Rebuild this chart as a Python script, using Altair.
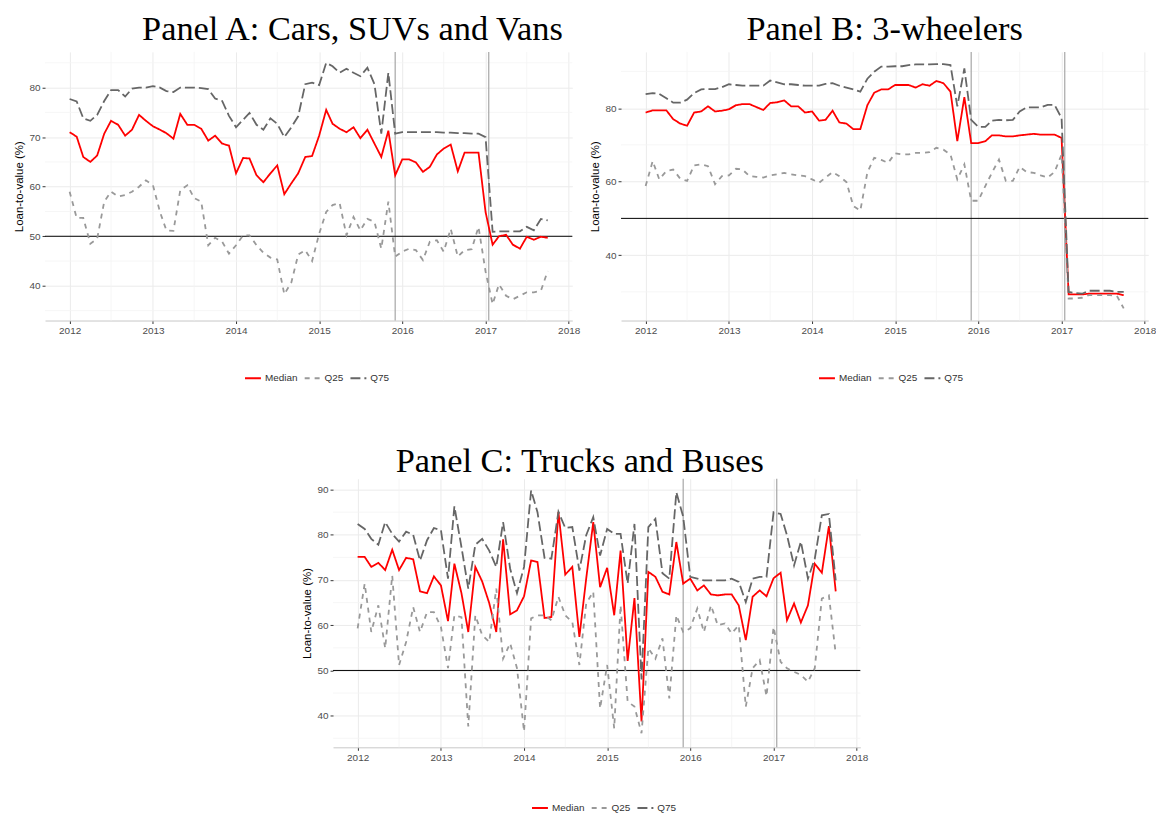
import altair as alt
import pandas as pd

# ---------------- data ----------------
MONTHS = [f"{2012 + i // 12}/{i % 12 + 1:02d}/01" for i in range(70)]  # 2012-01 .. 2017-10
YEARS = [2012, 2013, 2014, 2015, 2016, 2017, 2018]
MINOR_X = ["2012/07/01", "2013/07/01", "2014/07/01", "2015/07/01", "2016/07/01", "2017/07/01"]
VLINES = ["2015/12/01", "2017/01/15"]
HLINE = [50]
SERIES = ["Median", "Q25", "Q75"]

a_median = [71.0, 70.1, 66.0, 65.0, 66.3, 70.7, 73.3, 72.5, 70.3, 71.5, 74.5, 73.3,
            72.2, 71.5, 70.8, 69.7, 74.7, 72.5, 72.5, 71.7, 69.3, 70.3, 68.7, 68.3,
            62.7, 65.8, 65.7, 62.3, 60.9, 62.7, 64.3, 58.5, 60.7, 62.7, 66.0, 66.2,
            70.3, 75.5, 72.7, 71.7, 71.0, 72.0, 69.8, 71.5, 68.7, 66.0, 71.3, 62.3,
            65.5, 65.5, 64.9, 63.0, 64.0, 66.5, 67.7, 68.5, 63.1, 66.9, 66.9, 66.9,
            54.9, 48.3, 50.0, 50.3, 48.3, 47.5, 49.9, 49.3, 49.9, 49.7]
a_q75 = [77.7, 77.2, 73.8, 73.3, 74.5, 77.3, 79.5, 79.5, 78.2, 79.8, 80.0, 80.0,
         80.3, 80.0, 79.3, 79.1, 80.0, 80.0, 80.0, 79.9, 79.7, 77.8, 77.3, 74.3,
         72.0, 73.5, 74.9, 72.5, 71.5, 73.8, 72.7, 70.0, 72.0, 74.2, 80.7, 81.0,
         80.5, 85.0, 84.3, 83.0, 83.8, 83.0, 82.3, 84.0, 80.7, 70.7, 83.0, 70.7,
         71.0, 71.0, 71.0, 71.0, 71.0, 71.0, 70.9, 70.9, 70.8, 70.8, 70.7, 70.7,
         70.0, 50.9, 51.0, 51.0, 51.0, 51.0, 51.9, 51.2, 53.5, 53.2]
a_q25 = [59.0, 53.7, 53.7, 48.5, 49.5, 57.0, 59.0, 58.0, 58.3, 59.0, 60.0, 61.3,
         60.3, 54.9, 51.2, 51.1, 59.3, 60.3, 57.7, 57.0, 48.2, 49.7, 48.9, 46.5,
         48.2, 50.2, 50.2, 48.2, 46.7, 45.7, 45.3, 38.3, 40.7, 46.3, 47.2, 45.0,
         50.5, 54.9, 56.3, 56.7, 50.2, 53.9, 51.2, 53.5, 52.9, 47.5, 57.0, 45.9,
         46.9, 47.5, 47.2, 45.2, 48.9, 49.2, 46.9, 51.5, 45.9, 47.2, 47.4, 51.9,
         42.9, 36.3, 40.3, 38.0, 37.3, 38.0, 38.7, 38.7, 39.0, 43.0]

b_median = [78.8, 79.4, 79.4, 79.4, 77.0, 75.8, 75.2, 78.8, 79.1, 80.5, 79.1, 79.3,
            79.7, 80.8, 81.1, 81.1, 80.3, 79.5, 81.4, 81.6, 82.1, 80.5, 80.5, 78.8,
            79.1, 76.6, 76.8, 79.3, 76.1, 75.8, 74.3, 74.3, 80.8, 84.2, 85.1, 85.1,
            86.3, 86.3, 86.3, 85.6, 86.5, 86.1, 87.4, 86.8, 84.5, 71.0, 83.0, 70.5,
            70.5, 71.0, 72.6, 72.6, 72.3, 72.3, 72.6, 72.8, 73.0, 72.8, 72.8, 72.8,
            71.9, 29.3, 29.3, 29.3, 29.5, 29.5, 29.5, 29.5, 29.5, 29.1]
b_q75 = [83.8, 84.1, 83.9, 82.7, 81.5, 81.5, 82.3, 84.1, 85.1, 85.2, 85.2, 85.7,
         86.5, 86.3, 86.1, 86.1, 86.1, 86.1, 87.5, 87.0, 86.5, 86.5, 86.3, 86.1,
         86.1, 86.1, 86.6, 86.8, 86.1, 85.6, 85.1, 84.5, 88.0, 89.9, 91.3, 91.3,
         91.4, 91.4, 91.7, 91.9, 91.9, 91.9, 92.0, 92.0, 91.7, 80.5, 90.8, 76.8,
         74.9, 74.9, 76.6, 76.8, 76.7, 76.8, 79.1, 80.2, 80.2, 80.2, 80.9, 80.9,
         77.3, 30.0, 29.7, 29.5, 30.3, 30.3, 30.3, 30.3, 30.0, 30.0]
b_q25 = [58.8, 65.6, 60.6, 62.9, 63.3, 60.8, 60.2, 64.4, 64.7, 64.2, 59.3, 61.5,
         61.7, 63.5, 63.3, 61.5, 61.3, 61.1, 61.7, 62.0, 62.4, 62.0, 61.7, 61.5,
         60.6, 59.7, 61.1, 62.6, 61.5, 59.9, 53.4, 52.1, 62.5, 66.5, 65.9, 65.1,
         67.7, 67.4, 67.4, 67.8, 67.8, 68.0, 69.2, 68.7, 67.4, 60.6, 64.7, 54.8,
         54.8, 58.8, 62.4, 66.0, 60.2, 60.2, 64.0, 62.6, 62.4, 61.7, 61.1, 62.6,
         67.4, 28.2, 28.2, 28.4, 29.1, 29.1, 29.1, 29.1, 28.9, 25.5]

c_median = [75.1, 75.1, 72.9, 73.8, 72.2, 76.7, 72.2, 74.9, 74.6, 67.5, 67.1, 70.8,
            68.8, 60.9, 73.6, 67.1, 58.5, 72.9, 69.7, 64.9, 58.5, 79.0, 62.4, 63.3,
            66.4, 74.3, 74.0, 61.6, 61.8, 85.0, 71.2, 72.9, 57.4, 70.3, 82.8, 68.4,
            72.7, 62.2, 76.5, 52.1, 66.0, 38.7, 71.8, 70.7, 67.4, 66.8, 78.4, 69.2,
            70.3, 67.7, 68.8, 66.8, 66.6, 66.8, 66.8, 64.4, 56.7, 66.3, 67.7, 66.4,
            70.4, 71.6, 61.1, 64.8, 60.6, 64.4, 73.6, 71.6, 81.9, 67.5]
c_q75 = [82.4, 81.3, 79.1, 77.8, 82.8, 80.2, 78.5, 80.7, 80.0, 74.3, 78.8, 81.5,
         81.0, 70.3, 86.3, 77.3, 68.1, 77.8, 79.1, 76.5, 72.9, 82.8, 72.5, 67.1,
         72.9, 89.8, 85.0, 74.9, 74.7, 85.1, 81.5, 81.7, 72.1, 79.9, 83.9, 75.4,
         81.3, 80.2, 80.2, 69.2, 82.4, 48.0, 81.7, 83.5, 71.5, 70.3, 89.4, 84.0,
         70.7, 70.3, 69.9, 69.9, 69.9, 69.9, 70.3, 69.6, 65.1, 70.3, 70.7, 70.7,
         85.0, 84.6, 79.9, 73.2, 78.5, 70.3, 74.7, 84.3, 84.6, 69.9]
c_q25 = [59.3, 69.2, 58.5, 64.4, 54.9, 71.0, 51.2, 56.3, 64.0, 58.5, 62.9, 62.9,
         59.6, 50.5, 62.2, 61.8, 37.6, 62.2, 57.8, 56.3, 68.1, 52.6, 56.0, 50.5,
         36.5, 61.5, 62.2, 62.2, 61.1, 66.3, 62.2, 60.7, 51.2, 64.8, 67.4, 41.6,
         51.2, 37.2, 64.4, 43.1, 42.0, 36.1, 54.9, 52.6, 57.1, 43.8, 62.2, 58.5,
         59.3, 63.7, 58.5, 64.4, 60.0, 60.4, 58.2, 60.0, 42.0, 50.5, 52.3, 44.3,
         59.6, 51.9, 50.5, 49.7, 49.0, 47.5, 50.5, 65.9, 66.6, 53.7]

# ---------------- styling ----------------
COLORS = ["#ff0000", "#999999", "#666666"]
DASHES = [[1, 0], [5, 5], [10, 4]]
SANS = "Liberation Sans"
SERIF = "Liberation Serif"
W, H = 530, 270

xscale = alt.Scale(domain=[alt.DateTime(year=2011, month=9, date=15),
                           alt.DateTime(year=2018, month=1, date=17)])
xaxis = alt.Axis(values=[alt.DateTime(year=y, month=1, date=1) for y in YEARS],
                 format="%Y", labelColor="#4d4d4d", labelFontSize=10, labelFont=SANS,
                 tickColor="#333333", tickSize=3, domain=True, domainColor="#c8c8c8",
                 grid=True, gridColor="#ebebeb", labelPadding=2, title=None)


def panel(title, med, q25, q75, ydom, ymajor, yminor, title_dx, title_dy, leg_x, leg_dy):
    df = pd.DataFrame({"date": MONTHS * 3,
                       "value": med + q25 + q75,
                       "series": ["Median"] * 70 + ["Q25"] * 70 + ["Q75"] * 70})
    yscale = alt.Scale(domain=ydom, nice=False, zero=False)
    yaxis = alt.Axis(values=ymajor, labelColor="#4d4d4d", labelFontSize=10, labelFont=SANS,
                     tickColor="#333333", tickSize=3, domain=False, grid=True,
                     gridColor="#ebebeb", labelPadding=2, title="Loan-to-value (%)",
                     titleFont=SANS, titleFontSize=11.5, titleFontWeight="normal",
                     titleColor="#000000", titlePadding=5)
    X = lambda f: alt.X(f, scale=xscale, axis=xaxis, title=None)
    Y = lambda f: alt.Y(f, scale=yscale, axis=yaxis, title="Loan-to-value (%)")

    minor_x = alt.Chart(pd.DataFrame({"d": MINOR_X})).mark_rule(
        color="#f4f4f4", strokeWidth=0.8).encode(x=X("d:T"))
    minor_y = alt.Chart(pd.DataFrame({"v": yminor})).mark_rule(
        color="#f4f4f4", strokeWidth=0.8).encode(y=Y("v:Q"))
    vl = alt.Chart(pd.DataFrame({"d": VLINES})).mark_rule(
        color="#a6a6a6", strokeWidth=1.2).encode(x=X("d:T"))
    hl = alt.Chart(pd.DataFrame({"v": HLINE})).mark_rule(
        color="#000000", strokeWidth=1).encode(y=Y("v:Q"))

    leg = alt.Legend(title=None, orient="none", legendX=leg_x, legendY=H + 49 + leg_dy,
                     direction="horizontal", symbolType="stroke", symbolSize=256,
                     symbolStrokeWidth=1.8, labelFontSize=10, labelFont=SANS,
                     labelColor="#333333", columnPadding=3, labelOffset=3)
    lines = alt.Chart(df).mark_line(strokeWidth=1.8, clip=True).encode(
        x=X("date:T"),
        y=Y("value:Q"),
        color=alt.Color("series:N", scale=alt.Scale(domain=SERIES, range=COLORS), legend=leg),
        strokeDash=alt.StrokeDash("series:N", scale=alt.Scale(domain=SERIES, range=DASHES),
                                  legend=leg),
    )
    return alt.layer(minor_x, minor_y, vl, hl, lines).properties(
        width=W, height=H,
        title=alt.TitleParams(text=title, font=SERIF, fontSize=34.5, fontWeight="normal",
                              color="#000000", anchor="middle", dx=title_dx, dy=title_dy,
                              offset=4),
    )


A = panel("Panel A: Cars, SUVs and Vans", a_median, a_q25, a_q75, [33, 87.2],
          [40, 50, 60, 70, 80], [35, 45, 55, 65, 75, 85], 44, 0, 200, 0)
B = panel("Panel B: 3-wheelers", b_median, b_q25, b_q75, [22.2, 95.3],
          [40, 60, 80], [30, 50, 70, 90], 0, 0, 198, 0)
C = panel("Panel C: Trucks and Buses", c_median, c_q25, c_q75, [33, 92.4],
          [40, 50, 60, 70, 80, 90], [35, 45, 55, 65, 75, 85], -17, 5, 199, 3)

top = alt.hconcat(A, B, spacing=8).resolve_scale(
    x="independent", y="independent", color="independent", strokeDash="independent"
).resolve_legend(color="independent", strokeDash="independent")

chart = alt.vconcat(top, C, spacing=60, center=True).resolve_scale(
    x="independent", y="independent", color="independent", strokeDash="independent"
).resolve_legend(color="independent", strokeDash="independent").configure_view(
    stroke=None
).properties(background="white",
             padding={"left": 13, "top": 9, "right": 0, "bottom": 30})

chart.save("out.html", embed_options={"renderer": "svg", "actions": False})
